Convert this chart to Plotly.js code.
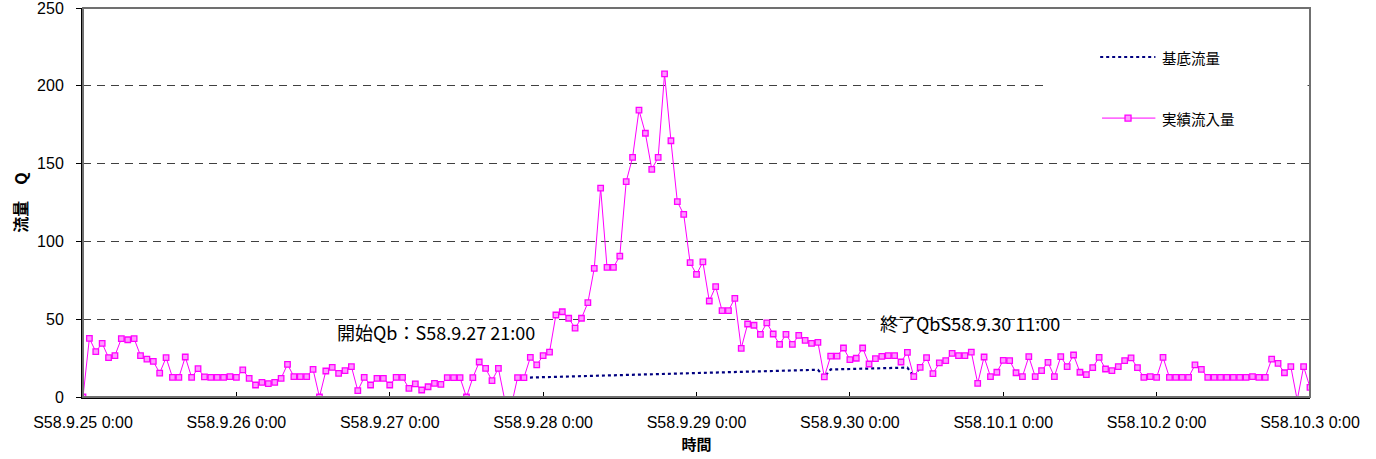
<!DOCTYPE html>
<html>
<head>
<meta charset="utf-8">
<script src="https://cdn.plot.ly/plotly-3.0.1.min.js"></script>
<style>html,body{margin:0;padding:0;background:#fff;}#chart{width:1376px;height:459px;}</style>
</head>
<body>
<div id="chart"></div>
<script>
// Hourly time steps (hour index from S58.9.25 0:00)
const tickHours = [0, 24, 48, 72, 96, 120, 144, 168, 192];
const tickLabels = ["S58.9.25 0:00", "S58.9.26 0:00", "S58.9.27 0:00", "S58.9.28 0:00",
  "S58.9.29 0:00", "S58.9.30 0:00", "S58.10.1 0:00", "S58.10.2 0:00", "S58.10.3 0:00"];
const yTicks = [0, 50, 100, 150, 200, 250];

// 実績流入量 (hourly, h0 .. h192)
const inflow = [
  0, 37.7, 29.1, 34.5, 25.3, 26.6, 37.5, 36.8, 37.5, 26.6, 24.4, 22.9, 15.4, 25.3, 12.6, 12.6,
  25.7, 12.6, 18.2, 12.9, 12.6, 12.6, 12.6, 13.1,
  12.6, 17.4, 12.0, 7.7, 9.4, 8.6, 9.4, 12.0, 21.0, 13.1, 13.1, 13.1, 17.8, 0, 16.7, 19.1,
  15.2, 16.9, 19.5, 4.1, 12.6, 7.7, 12.0, 12.0,
  7.7, 12.6, 12.6, 5.6, 8.4, 4.5, 6.6, 8.8, 8.1, 12.4, 12.4, 12.4, 0, 12.4, 22.5, 18.4,
  10.5, 18.4, -2, -6, 12.4, 12.4, 25.5, 20.6,
  26.6, 28.9, 52.7, 54.8, 50.6, 44.3, 50.6, 60.6, 82.7, 134.3, 83.3, 83.3, 90.6, 138.4, 154.0, 184.4,
  169.5, 146.3, 154.0, 207.6, 164.7, 125.5, 117.4, 86.3,
  78.8, 86.8, 61.7, 70.9, 55.5, 55.5, 63.4, 31.3, 46.9, 46.1, 40.3, 47.6, 40.5, 33.8, 40.3, 33.8,
  39.6, 36.4, 34.5, 35.1, 12.9, 26.3, 26.3, 31.5,
  24.0, 24.9, 31.5, 21.2, 24.6, 26.1, 26.6, 26.6, 22.5, 28.7, 13.1, 19.1, 25.3, 15.0, 21.9, 23.4,
  28.1, 26.6, 26.6, 28.9, 8.8, 25.7, 13.1, 15.9,
  23.6, 23.4, 15.6, 13.1, 25.9, 13.1, 16.9, 22.3, 13.1, 25.9, 19.5, 27.0, 15.9, 14.4, 18.9, 25.5,
  18.0, 16.9, 19.5, 23.4, 25.1, 18.9, 12.6, 13.1,
  12.6, 25.5, 12.6, 12.6, 12.6, 12.6, 20.6, 17.8, 12.6, 12.6, 12.6, 12.6, 12.6, 12.6, 12.6, 13.1,
  12.6, 12.6, 24.4, 21.6, 15.6, 19.5, -2, 19.5,
  6.2
];
const inflowHours = inflow.map((_, i) => i);

// 基底流量 (read at its vertices)
const baseHours = [69, 115, 116, 117, 129, 130, 131];
const baseFlow = [12.4, 17.5, 12.9, 17.7, 18.9, 13.1, 19.1];

const seriesNames = ["基底流量", "実績流入量"];
const annTexts = ["開始Qb：S58.9.27 21:00", "終了QbS58.9.30 11:00"];
const annHours = [55.2, 138.8];
const annValues = [41.5, 47.3];

const latin = "Liberation Sans, Arial, Noto Sans CJK JP, sans-serif";
const cjk = "Noto Sans CJK JP, sans-serif";

const baseStyle = {color: "#000080", width: 2.2, dash: "dot"};
const inflowLine = {color: "#FF00FF", width: 1};
const inflowMarker = {symbol: "square", size: 5.5, color: "#FF99FF", line: {color: "#FF00FF", width: 1.3}};

const traces = [
  {x: baseHours, y: baseFlow, type: "scatter", mode: "lines", name: seriesNames[0], line: baseStyle},
  {x: inflowHours, y: inflow, type: "scatter", mode: "lines+markers", name: seriesNames[1],
   line: inflowLine, marker: inflowMarker}
];

// legend drawn by hand (paper coordinates)
const legY = [0.874, 0.717];
const legShapes = [
  {type: "line", xref: "paper", yref: "paper", x0: 0.829, x1: 0.874, y0: legY[0], y1: legY[0],
   line: {color: baseStyle.color, width: 2.2, dash: "dot"}, layer: "above"},
  {type: "line", xref: "paper", yref: "paper", x0: 0.8305, x1: 0.874, y0: legY[1], y1: legY[1],
   line: {color: "#FF00FF", width: 1}, layer: "above"},
  {type: "rect", xref: "paper", yref: "paper", xsizemode: "pixel", ysizemode: "pixel",
   xanchor: 0.8517, yanchor: legY[1], x0: -3, x1: 3, y0: -3, y1: 3,
   fillcolor: "#FF99FF", line: {color: "#FF00FF", width: 1.3}, layer: "above"}
];

const layout = {
  width: 1376, height: 459,
  margin: {l: 83, r: 66, t: 8, b: 62},
  paper_bgcolor: "#fff", plot_bgcolor: "#fff",
  showlegend: false,
  xaxis: {
    range: [0, 192], tickmode: "array", tickvals: tickHours, ticktext: tickLabels,
    tickfont: {family: latin, size: 16, color: "#000"}, ticklabelstandoff: 10,
    ticklabeloverflow: "allow",
    ticks: "inside", ticklen: 5, tickcolor: "#000", tickwidth: 1,
    showline: true, linecolor: "#000", linewidth: 2,
    showgrid: false, zeroline: false,
    title: {text: "時間", font: {family: cjk, size: 15, color: "#000", weight: "bold"}, standoff: 9}
  },
  yaxis: {
    range: [0, 250], tickmode: "array", tickvals: yTicks, ticktext: yTicks.map(String),
    tickfont: {family: latin, size: 16, color: "#000"}, ticklabelstandoff: 9,
    ticklabeloverflow: "allow",
    ticks: "outside", ticklen: 5, tickcolor: "#000", tickwidth: 1,
    showline: true, linecolor: "#000", linewidth: 2,
    showgrid: true, gridcolor: "#404040", gridwidth: 1, griddash: "8px,6px",
    zeroline: false,
    title: {text: "流量　Q", font: {family: cjk, size: 16, color: "#000", weight: "bold"}, standoff: 5}
  },
  shapes: [
    {type: "rect", xref: "paper", yref: "y", x0: 0.784, x1: 0.998, y0: 160, y1: 248,
     fillcolor: "#fff", line: {width: 0}, layer: "above"},
    {type: "rect", xref: "paper", yref: "paper", x0: 0, x1: 1, y0: 0, y1: 1,
     fillcolor: "rgba(0,0,0,0)", line: {color: "#707070", width: 2}, layer: "above"}
  ].concat(legShapes),
  annotations: annTexts.map((t, i) => ({
    text: t, x: annHours[i], y: annValues[i], xref: "x", yref: "y",
    showarrow: false, font: {family: cjk, size: 18, color: "#000"}
  })).concat(seriesNames.map((n, i) => ({
    text: n, xref: "paper", yref: "paper", x: 0.8778, y: legY[i], xanchor: "left", yanchor: "middle",
    showarrow: false, font: {family: cjk, size: 14.5, color: "#000"}
  })))
};

Plotly.newPlot("chart", traces, layout, {staticPlot: true, displayModeBar: false});
</script>
</body>
</html>
